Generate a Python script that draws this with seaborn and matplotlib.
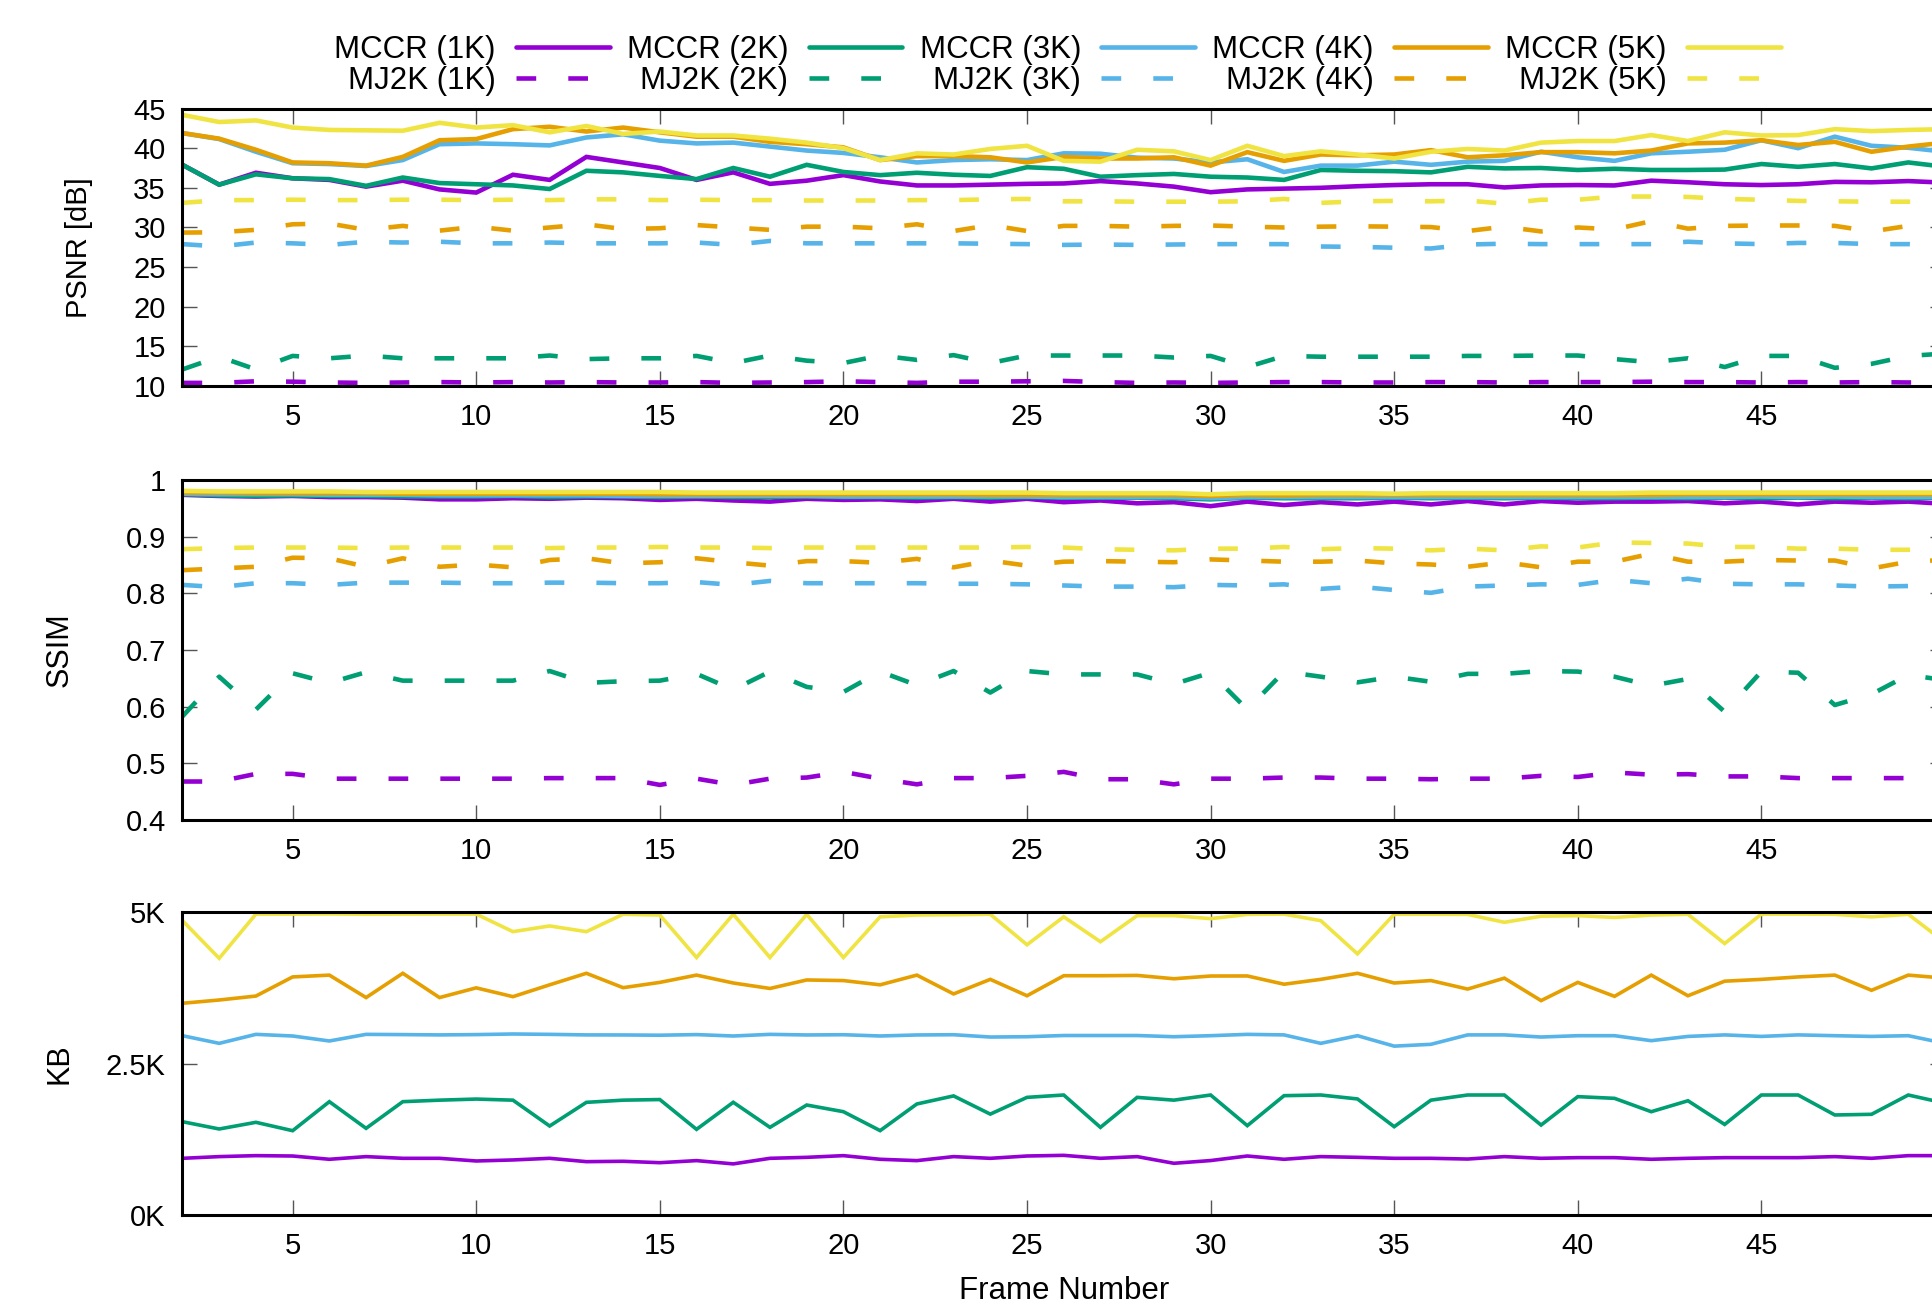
import matplotlib
matplotlib.use("Agg")
import matplotlib.pyplot as plt
from matplotlib.ticker import FixedLocator, FuncFormatter
import seaborn as sns

# frame numbers shown in the picture
frames = list(range(2, 51))

codecs = ["1K", "2K", "3K", "4K", "5K"]
colors = ["#9400D3", "#009E73", "#56B4E9", "#E69F00", "#F0E442"]

# ---- PSNR [dB] ----
psnr_mccr_1k = [37.9, 35.4, 36.9, 36.2, 36.0, 35.15, 35.9, 34.8, 34.4,
                36.65, 36.0, 38.9, 38.2, 37.5, 36.0, 36.95, 35.5, 35.9, 36.6,
                35.8, 35.3, 35.3, 35.4, 35.5, 35.55, 35.85, 35.55, 35.15, 34.45,
                34.8, 34.9, 35.0, 35.2, 35.35, 35.45, 35.45, 35.05, 35.3, 35.35,
                35.3, 35.9, 35.7, 35.45, 35.35, 35.45, 35.75, 35.7, 35.85, 35.65]
psnr_mccr_2k = [37.9, 35.4, 36.7, 36.2, 36.1, 35.25, 36.3, 35.6, 35.45,
                35.3, 34.85, 37.15, 36.95, 36.5, 36.1, 37.5, 36.4, 37.9, 37.0,
                36.6, 36.9, 36.65, 36.5, 37.6, 37.4, 36.4, 36.6, 36.75, 36.4,
                36.3, 36.0, 37.25, 37.15, 37.1, 36.95, 37.65, 37.45, 37.5, 37.25,
                37.4, 37.25, 37.25, 37.3, 38.0, 37.65, 38.0, 37.45, 38.2, 37.65]
psnr_mccr_3k = [41.9, 41.15, 39.55, 38.1, 38.0, 37.75, 38.5, 40.5, 40.6,
                40.5, 40.35, 41.35, 41.75, 40.95, 40.6, 40.7, 40.2, 39.7, 39.4,
                38.85, 38.2, 38.5, 38.6, 38.5, 39.35, 39.3, 38.8, 38.7, 38.2,
                38.6, 37.0, 37.8, 37.8, 38.3, 37.9, 38.3, 38.4, 39.55, 38.85,
                38.4, 39.35, 39.55, 39.8, 41.0, 40.0, 41.45, 40.3, 40.05, 39.55]
psnr_mccr_4k = [41.9, 41.2, 39.8, 38.2, 38.1, 37.8, 38.9, 41.0, 41.15,
                42.4, 42.7, 42.1, 42.6, 42.0, 41.45, 41.45, 40.8, 40.5, 40.1,
                38.5, 39.0, 39.0, 38.85, 38.2, 38.9, 38.7, 38.7, 38.85, 37.8,
                39.5, 38.4, 39.2, 39.1, 39.2, 39.75, 38.85, 39.1, 39.5, 39.5,
                39.35, 39.7, 40.6, 40.7, 41.0, 40.4, 40.8, 39.55, 40.2, 40.7]
psnr_mccr_5k = [44.2, 43.3, 43.5, 42.6, 42.3, 42.25, 42.2, 43.2, 42.6,
                42.9, 42.0, 42.8, 41.8, 42.1, 41.6, 41.6, 41.2, 40.7, 40.0,
                38.5, 39.35, 39.2, 39.9, 40.3, 38.4, 38.3, 39.8, 39.6, 38.5,
                40.3, 39.0, 39.6, 39.2, 38.7, 39.55, 39.9, 39.7, 40.7, 40.9,
                40.9, 41.65, 40.9, 42.0, 41.6, 41.65, 42.4, 42.15, 42.3, 42.4]
psnr_mj2k_1k = [10.4, 10.4, 10.6, 10.55, 10.45, 10.4, 10.45, 10.5, 10.45,
                10.5, 10.45, 10.5, 10.45, 10.45, 10.5, 10.4, 10.45, 10.5, 10.6,
                10.5, 10.4, 10.55, 10.55, 10.6, 10.65, 10.5, 10.4, 10.45, 10.4,
                10.45, 10.5, 10.5, 10.45, 10.45, 10.5, 10.5, 10.45, 10.5, 10.5,
                10.5, 10.55, 10.5, 10.5, 10.45, 10.5, 10.45, 10.5, 10.45, 10.5]
psnr_mj2k_2k = [12.1, 13.7, 12.1, 13.8, 13.5, 13.85, 13.5, 13.5, 13.5,
                13.5, 13.85, 13.4, 13.5, 13.5, 13.8, 12.9, 13.85, 13.2, 12.9,
                13.85, 13.3, 13.9, 12.9, 13.85, 13.85, 13.85, 13.85, 13.6, 13.8,
                12.4, 13.8, 13.7, 13.7, 13.7, 13.7, 13.8, 13.8, 13.85, 13.85,
                13.4, 13.0, 13.5, 12.4, 13.8, 13.8, 12.3, 12.8, 13.8, 14.1]
psnr_mj2k_3k = [27.9, 27.6, 28.1, 28.0, 27.8, 28.2, 28.1, 28.2, 28.0,
                28.0, 28.1, 28.0, 28.0, 28.0, 28.1, 27.8, 28.3, 28.0, 28.0,
                28.0, 28.0, 28.0, 27.95, 27.9, 27.8, 27.85, 27.8, 27.85, 27.9,
                27.9, 27.9, 27.6, 27.55, 27.45, 27.35, 27.85, 27.95, 27.9, 27.9,
                27.9, 27.9, 28.2, 28.0, 27.9, 28.05, 28.05, 27.9, 27.9, 27.7]
psnr_mj2k_4k = [29.35, 29.4, 29.7, 30.4, 30.5, 29.7, 30.2, 29.6, 30.1,
                29.6, 30.0, 30.4, 29.8, 29.9, 30.3, 30.0, 29.7, 30.1, 30.1,
                29.9, 30.4, 29.55, 30.3, 29.55, 30.2, 30.2, 30.1, 30.2, 30.25,
                30.1, 30.0, 30.1, 30.15, 30.1, 30.05, 29.55, 30.1, 29.5, 30.0,
                29.75, 30.8, 29.85, 30.2, 30.25, 30.25, 30.2, 29.5, 30.2, 30.2]
psnr_mj2k_5k = [33.1, 33.45, 33.45, 33.5, 33.45, 33.45, 33.5, 33.5, 33.45,
                33.5, 33.45, 33.55, 33.55, 33.45, 33.5, 33.45, 33.45, 33.4, 33.4,
                33.4, 33.45, 33.45, 33.55, 33.6, 33.3, 33.3, 33.25, 33.25, 33.25,
                33.3, 33.6, 33.1, 33.3, 33.35, 33.3, 33.4, 33.0, 33.5, 33.5,
                33.9, 33.9, 33.85, 33.6, 33.5, 33.35, 33.3, 33.25, 33.25, 33.35]

# ---- SSIM ----
ssim_mccr_1k = [0.974, 0.972, 0.971, 0.972, 0.970, 0.970, 0.969, 0.966, 0.966,
                0.968, 0.967, 0.969, 0.968, 0.965, 0.967, 0.964, 0.962, 0.967, 0.965,
                0.966, 0.963, 0.967, 0.962, 0.967, 0.961, 0.964, 0.959, 0.961, 0.954,
                0.962, 0.956, 0.961, 0.957, 0.962, 0.957, 0.963, 0.957, 0.963, 0.960,
                0.962, 0.962, 0.963, 0.959, 0.962, 0.957, 0.962, 0.960, 0.962, 0.958]
ssim_mccr_2k = [0.975, 0.973, 0.972, 0.973, 0.972, 0.972, 0.971, 0.971, 0.971,
                0.972, 0.970, 0.971, 0.971, 0.970, 0.971, 0.970, 0.970, 0.971, 0.970,
                0.970, 0.969, 0.970, 0.969, 0.970, 0.969, 0.969, 0.969, 0.968, 0.966,
                0.969, 0.968, 0.968, 0.968, 0.969, 0.968, 0.969, 0.968, 0.969, 0.968,
                0.968, 0.969, 0.968, 0.969, 0.968, 0.969, 0.968, 0.969, 0.968, 0.969]
ssim_mccr_3k = [0.976, 0.975, 0.975, 0.975, 0.974, 0.974, 0.974, 0.973, 0.973,
                0.973, 0.973, 0.973, 0.972, 0.972, 0.972, 0.972, 0.972, 0.972, 0.971,
                0.971, 0.971, 0.971, 0.971, 0.971, 0.970, 0.970, 0.970, 0.970, 0.968,
                0.970, 0.970, 0.970, 0.970, 0.970, 0.970, 0.970, 0.970, 0.970, 0.970,
                0.970, 0.970, 0.970, 0.970, 0.971, 0.970, 0.971, 0.970, 0.970, 0.970]
ssim_mccr_4k = [0.978, 0.978, 0.977, 0.977, 0.977, 0.977, 0.976, 0.976, 0.976,
                0.976, 0.976, 0.976, 0.976, 0.975, 0.975, 0.975, 0.975, 0.975, 0.975,
                0.975, 0.975, 0.975, 0.974, 0.974, 0.974, 0.974, 0.974, 0.974, 0.972,
                0.974, 0.973, 0.974, 0.974, 0.974, 0.974, 0.974, 0.974, 0.974, 0.974,
                0.974, 0.974, 0.975, 0.975, 0.975, 0.975, 0.975, 0.975, 0.975, 0.975]
ssim_mccr_5k = [0.981, 0.980, 0.980, 0.980, 0.980, 0.979, 0.979, 0.979, 0.979,
                0.979, 0.979, 0.979, 0.979, 0.979, 0.978, 0.978, 0.978, 0.978, 0.978,
                0.978, 0.978, 0.978, 0.978, 0.978, 0.977, 0.977, 0.977, 0.977, 0.975,
                0.977, 0.977, 0.977, 0.977, 0.976, 0.977, 0.977, 0.977, 0.977, 0.977,
                0.977, 0.978, 0.978, 0.978, 0.978, 0.978, 0.978, 0.978, 0.978, 0.978]
ssim_mj2k_1k = [0.468, 0.468, 0.4815, 0.4815, 0.473, 0.473, 0.473, 0.473, 0.473,
                0.473, 0.474, 0.474, 0.474, 0.462, 0.473, 0.462, 0.473, 0.475, 0.485,
                0.473, 0.463, 0.474, 0.474, 0.478, 0.485, 0.472, 0.472, 0.463, 0.473,
                0.473, 0.475, 0.475, 0.473, 0.473, 0.472, 0.473, 0.473, 0.478, 0.476,
                0.484, 0.480, 0.481, 0.477, 0.477, 0.474, 0.474, 0.474, 0.474, 0.475]
ssim_mj2k_2k = [0.583, 0.653, 0.595, 0.659, 0.642, 0.661, 0.646, 0.646, 0.646,
                0.646, 0.663, 0.642, 0.645, 0.646, 0.658, 0.630, 0.662, 0.635, 0.626,
                0.662, 0.638, 0.663, 0.625, 0.663, 0.657, 0.657, 0.657, 0.640, 0.660,
                0.595, 0.662, 0.653, 0.643, 0.653, 0.644, 0.658, 0.658, 0.663, 0.662,
                0.653, 0.637, 0.649, 0.591, 0.662, 0.660, 0.603, 0.622, 0.656, 0.647]
ssim_mj2k_3k = [0.815, 0.811, 0.818, 0.818, 0.815, 0.819, 0.819, 0.819, 0.818,
                0.818, 0.819, 0.819, 0.818, 0.818, 0.820, 0.815, 0.822, 0.818, 0.818,
                0.818, 0.818, 0.817, 0.817, 0.816, 0.814, 0.812, 0.812, 0.811, 0.815,
                0.814, 0.816, 0.808, 0.812, 0.806, 0.801, 0.812, 0.814, 0.816, 0.815,
                0.824, 0.818, 0.826, 0.817, 0.816, 0.816, 0.814, 0.812, 0.813, 0.809]
ssim_mj2k_4k = [0.841, 0.844, 0.847, 0.863, 0.862, 0.847, 0.862, 0.847, 0.851,
                0.846, 0.859, 0.862, 0.853, 0.855, 0.862, 0.855, 0.849, 0.857, 0.857,
                0.854, 0.861, 0.846, 0.858, 0.849, 0.856, 0.857, 0.856, 0.855, 0.860,
                0.858, 0.856, 0.856, 0.858, 0.853, 0.851, 0.847, 0.855, 0.846, 0.856,
                0.856, 0.870, 0.856, 0.856, 0.859, 0.858, 0.858, 0.844, 0.856, 0.859]
ssim_mj2k_5k = [0.878, 0.880, 0.881, 0.881, 0.881, 0.880, 0.881, 0.881, 0.881,
                0.881, 0.880, 0.881, 0.881, 0.882, 0.881, 0.881, 0.880, 0.881, 0.881,
                0.881, 0.881, 0.881, 0.881, 0.882, 0.881, 0.878, 0.877, 0.876, 0.879,
                0.879, 0.882, 0.878, 0.880, 0.879, 0.876, 0.879, 0.876, 0.883, 0.881,
                0.890, 0.889, 0.888, 0.882, 0.882, 0.879, 0.879, 0.877, 0.877, 0.879]

# ---- frame size [KB] (MCCR only) ----
kb_mccr_1k = [942, 970, 986, 980, 926, 970, 942, 942, 898,
              915, 942, 887, 893, 870, 904, 850, 942, 958, 986,
              926, 904, 970, 942, 980, 991, 942, 970, 860, 905,
              980, 926, 970, 958, 942, 942, 930, 970, 942, 953,
              953, 926, 942, 953, 953, 953, 970, 942, 986, 986]
kb_mccr_2k = [1545, 1425, 1535, 1397, 1875, 1436, 1875, 1900, 1918,
              1900, 1474, 1864, 1900, 1910, 1419, 1865, 1452, 1820, 1710,
              1398, 1837, 1970, 1670, 1946, 1985, 1452, 1946, 1900, 1985,
              1480, 1974, 1985, 1920, 1463, 1900, 1985, 1985, 1490, 1958,
              1930, 1710, 1890, 1500, 1985, 1985, 1656, 1667, 1985, 1850]
kb_mccr_3k = [2962, 2836, 2984, 2957, 2875, 2984, 2980, 2975, 2980,
              2990, 2984, 2975, 2974, 2970, 2980, 2957, 2984, 2974, 2978,
              2957, 2974, 2978, 2940, 2945, 2965, 2965, 2965, 2945, 2962,
              2984, 2975, 2836, 2962, 2790, 2820, 2975, 2975, 2940, 2962,
              2962, 2880, 2950, 2975, 2950, 2975, 2962, 2950, 2962, 2836]
kb_mccr_4k = [3496, 3550, 3615, 3930, 3960, 3590, 3990, 3590, 3750,
              3605, 3800, 3990, 3753, 3840, 3960, 3830, 3740, 3880, 3870,
              3800, 3960, 3650, 3890, 3620, 3950, 3950, 3955, 3900, 3945,
              3946, 3810, 3890, 3990, 3830, 3870, 3730, 3910, 3540, 3840,
              3610, 3960, 3620, 3860, 3890, 3930, 3960, 3710, 3960, 3910]
kb_mccr_5k = [4857, 4237, 4965, 4965, 4968, 4962, 4965, 4966, 4965,
              4676, 4770, 4676, 4962, 4950, 4250, 4962, 4250, 4960, 4250,
              4920, 4950, 4955, 4962, 4460, 4920, 4510, 4940, 4940, 4890,
              4960, 4965, 4857, 4310, 4962, 4962, 4960, 4830, 4930, 4940,
              4910, 4950, 4962, 4480, 4965, 4965, 4962, 4920, 4962, 4500]

psnr_mccr = [psnr_mccr_1k, psnr_mccr_2k, psnr_mccr_3k, psnr_mccr_4k, psnr_mccr_5k]
psnr_mj2k = [psnr_mj2k_1k, psnr_mj2k_2k, psnr_mj2k_3k, psnr_mj2k_4k, psnr_mj2k_5k]
ssim_mccr = [ssim_mccr_1k, ssim_mccr_2k, ssim_mccr_3k, ssim_mccr_4k, ssim_mccr_5k]
ssim_mj2k = [ssim_mj2k_1k, ssim_mj2k_2k, ssim_mj2k_3k, ssim_mj2k_4k, ssim_mj2k_5k]
kb_mccr = [kb_mccr_1k, kb_mccr_2k, kb_mccr_3k, kb_mccr_4k, kb_mccr_5k]

sns.set_theme(style="ticks")
plt.rcParams["font.family"] = ["Liberation Sans", "DejaVu Sans"]
plt.rcParams.update({"text.color": "black", "axes.labelcolor": "black",
                     "xtick.labelcolor": "black", "ytick.labelcolor": "black"})

FS = 21
LEG_FS = 22.5
DASH = (0, (4.3, 7.0))

fig = plt.figure(figsize=(19.33, 13.06), dpi=100)
left, width = 0.0944, 0.9118
ax1 = fig.add_axes([left, 0.7044, width, 0.2125])
ax2 = fig.add_axes([left, 0.3721, width, 0.2603])
ax3 = fig.add_axes([left, 0.0693, width, 0.2324])


def draw(ax, solid, dashed, lw):
    handles = {}
    for i, vals in enumerate(solid):
        sns.lineplot(x=frames, y=vals, ax=ax, color=colors[i], lw=lw,
                     legend=False, solid_joinstyle="miter")
        handles["MCCR (%s)" % codecs[i]] = ax.lines[-1]
    for i, vals in enumerate(dashed):
        sns.lineplot(x=frames, y=vals, ax=ax, color=colors[i], lw=lw,
                     linestyle=DASH, legend=False)
        handles["MJ2K (%s)" % codecs[i]] = ax.lines[-1]
    return handles


def style(ax, ylim, yticks, fmt):
    ax.set_xlim(2, 50)
    ax.set_ylim(*ylim)
    ax.xaxis.set_major_locator(FixedLocator(list(range(5, 50, 5))))
    ax.yaxis.set_major_locator(FixedLocator(yticks))
    ax.yaxis.set_major_formatter(FuncFormatter(fmt))
    ax.tick_params(direction="in", length=11, width=1.0, color="#555555",
                   top=True, right=True, labelsize=FS, pad=12, labelcolor="black")
    for sp in ax.spines.values():
        sp.set_linewidth(2.2)
        sp.set_color("black")
        sp.set_visible(True)
    ax.set_xlabel("")


h = draw(ax1, psnr_mccr, psnr_mj2k, 3.3)
draw(ax2, ssim_mccr, ssim_mj2k, 3.3)
draw(ax3, kb_mccr, [], 2.6)

style(ax1, (10, 45), list(range(10, 46, 5)), lambda v, p: "%g" % v)
style(ax2, (0.4, 1.0), [0.4, 0.5, 0.6, 0.7, 0.8, 0.9, 1.0], lambda v, p: "%g" % round(v, 1))
style(ax3, (0, 5000), [0, 2500, 5000], lambda v, p: "%gK" % (v / 1000))

ax1.set_ylabel("PSNR [dB]", fontsize=FS)
ax2.set_ylabel("SSIM", fontsize=22)
ax3.set_ylabel("KB", fontsize=22)
ax1.yaxis.set_label_coords(-0.051, 0.5)
ax2.yaxis.set_label_coords(-0.061, 0.5)
ax3.yaxis.set_label_coords(-0.061, 0.5)
ax3.set_xlabel("Frame Number", fontsize=22.5)
ax3.xaxis.set_label_coords(0.5, -0.2)

# gnuplot-like key: text first, sample after, two rows
order = []
for c in codecs:
    order += ["MCCR (%s)" % c, "MJ2K (%s)" % c]
fig.legend([h[k] for k in order], order, ncol=5, markerfirst=False,
           loc="center", bbox_to_anchor=(0.547, 0.950), frameon=False,
           fontsize=LEG_FS, handlelength=3.0, handletextpad=0.65,
           columnspacing=0.55, labelspacing=0.05, borderpad=0)

fig.savefig("out.png", dpi=100)
